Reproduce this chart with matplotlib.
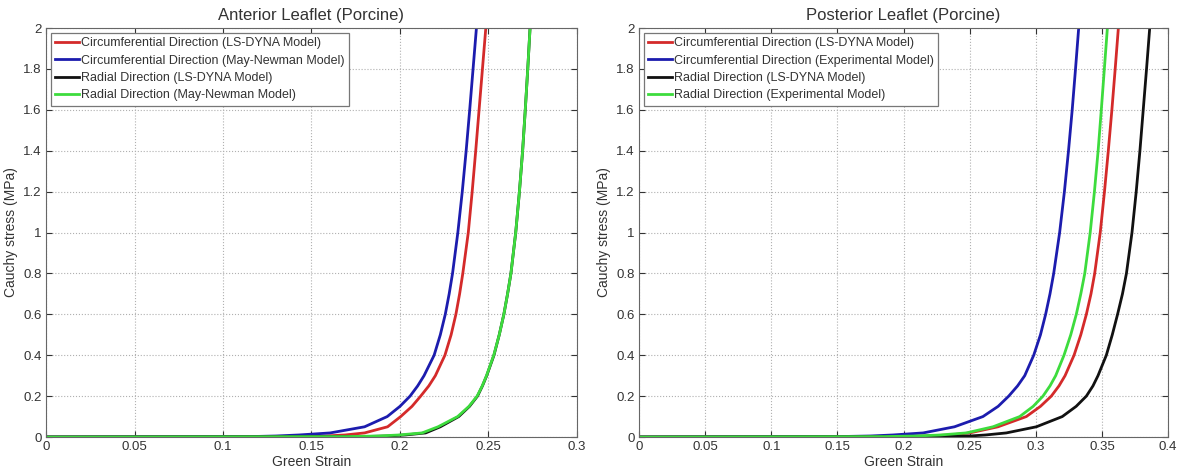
import matplotlib.pyplot as plt

plt.rcParams['font.family'] = ['Liberation Sans', 'DejaVu Sans']

# stress levels (MPa) shared by all curves
stress = [0, 0.002, 0.005, 0.01, 0.02, 0.05, 0.1, 0.15, 0.2, 0.25, 0.3, 0.4, 0.5,
          0.6, 0.7, 0.8, 1.0, 1.2, 1.4, 1.6, 1.8, 2.0]

# anterior leaflet: green strain at each stress level
ant_circ_lsdyna = [0, 0.145, 0.158, 0.169, 0.18, 0.193, 0.2004, 0.2068, 0.2117, 0.2163,
                   0.2200, 0.2254, 0.2289, 0.2316, 0.2337, 0.2355, 0.2386, 0.2408,
                   0.2428, 0.2447, 0.2466, 0.2485]
ant_circ_may = [0, 0.115, 0.130, 0.143, 0.1606, 0.180, 0.1928, 0.2000, 0.2057, 0.2100,
                0.2136, 0.2193, 0.2228, 0.2256, 0.2278, 0.2297, 0.2327, 0.2352,
                0.2374, 0.2394, 0.2413, 0.2432]
ant_rad_lsdyna = [0, 0.178, 0.193, 0.203, 0.2145, 0.2228, 0.2332, 0.2393, 0.2438, 0.2466,
                  0.2490, 0.2531, 0.2561, 0.2587, 0.2608, 0.2627, 0.2654, 0.2675,
                  0.2693, 0.2708, 0.2722, 0.2735]
ant_rad_may = [0, 0.170, 0.188, 0.1995, 0.2125, 0.2215, 0.2326, 0.2390, 0.2436, 0.2465,
               0.2489, 0.2530, 0.2561, 0.2587, 0.2608, 0.2627, 0.2654, 0.2675,
               0.2693, 0.2708, 0.2722, 0.2735]

# posterior leaflet
post_circ_lsdyna = [0, 0.19, 0.215, 0.235, 0.25, 0.2714, 0.2928, 0.3035, 0.3117, 0.3175,
                    0.3221, 0.3289, 0.3340, 0.3382, 0.3417, 0.3445, 0.3487, 0.3519,
                    0.3548, 0.3575, 0.3600, 0.3624]
post_circ_exp = [0, 0.15, 0.175, 0.192, 0.2148, 0.2385, 0.2600, 0.2715, 0.2795, 0.2862,
                 0.2916, 0.2984, 0.3035, 0.3074, 0.3107, 0.3135, 0.3180, 0.3216,
                 0.3247, 0.3275, 0.3300, 0.3324]
post_rad_lsdyna = [0, 0.22, 0.25, 0.262, 0.2777, 0.3004, 0.3200, 0.3305, 0.3382, 0.3432,
                   0.3470, 0.3533, 0.3578, 0.3618, 0.3655, 0.3685, 0.3727, 0.3759,
                   0.3787, 0.3812, 0.3837, 0.3861]
post_rad_exp = [0, 0.185, 0.21, 0.228, 0.2474, 0.2676, 0.2878, 0.2980, 0.3054, 0.3107,
                0.3150, 0.3213, 0.3264, 0.3306, 0.3340, 0.3370, 0.3411, 0.3443,
                0.3471, 0.3495, 0.3518, 0.3541]

red = '#d42a2a'
blue = '#1c1cae'
black = '#111111'
green = '#3ddc3d'

fig = plt.figure(figsize=(11.83, 4.69), dpi=100)
ax1 = fig.add_axes([0.0389, 0.0682, 0.4488, 0.8720])
ax2 = fig.add_axes([0.5402, 0.0682, 0.4472, 0.8720])


def style(ax, xmax, xticks, title):
    ax.set_xlim(0, xmax)
    ax.set_ylim(0, 2)
    ax.set_xticks(xticks)
    ax.set_xticklabels(['%g' % v for v in xticks])
    yt = [0, 0.2, 0.4, 0.6, 0.8, 1, 1.2, 1.4, 1.6, 1.8, 2]
    ax.set_yticks(yt)
    ax.set_yticklabels(['%g' % v for v in yt])
    ax.grid(True, linestyle=':', color='#b0b0b0', linewidth=0.8)
    ax.tick_params(direction='in', top=True, right=True, labelsize=9.5,
                   colors='#333333', length=4, pad=3)
    for s in ax.spines.values():
        s.set_color('#666666')
    ax.set_xlabel('Green Strain', fontsize=10, color='#333333', labelpad=1)
    ax.set_ylabel('Cauchy stress (MPa)', fontsize=10, color='#333333', labelpad=4)
    ax.set_title(title, fontsize=12, color='#333333', pad=6)


lw = 2.0
ax1.plot(ant_circ_lsdyna, stress, color=red, lw=lw, label='Circumferential Direction (LS-DYNA Model)')
ax1.plot(ant_circ_may, stress, color=blue, lw=lw, label='Circumferential Direction (May-Newman Model)')
ax1.plot(ant_rad_lsdyna, stress, color=black, lw=lw, label='Radial Direction (LS-DYNA Model)')
ax1.plot(ant_rad_may, stress, color=green, lw=lw, label='Radial Direction (May-Newman Model)')
style(ax1, 0.3, [0, 0.05, 0.1, 0.15, 0.2, 0.25, 0.3], 'Anterior Leaflet (Porcine)')

ax2.plot(post_circ_lsdyna, stress, color=red, lw=lw, label='Circumferential Direction (LS-DYNA Model)')
ax2.plot(post_circ_exp, stress, color=blue, lw=lw, label='Circumferential Direction (Experimental Model)')
ax2.plot(post_rad_lsdyna, stress, color=black, lw=lw, label='Radial Direction (LS-DYNA Model)')
ax2.plot(post_rad_exp, stress, color=green, lw=lw, label='Radial Direction (Experimental Model)')
style(ax2, 0.4, [0, 0.05, 0.1, 0.15, 0.2, 0.25, 0.3, 0.35, 0.4], 'Posterior Leaflet (Porcine)')

for ax in (ax1, ax2):
    leg = ax.legend(loc='upper left', fontsize=9, handlelength=1.9, handletextpad=0.15,
                    borderpad=0.35, labelspacing=0.42, fancybox=False, framealpha=1,
                    borderaxespad=0.4)
    leg.get_frame().set_edgecolor('#777777')
    leg.get_frame().set_linewidth(0.9)
    for t in leg.get_texts():
        t.set_color('#333333')

fig.savefig('out.png', dpi=100)
